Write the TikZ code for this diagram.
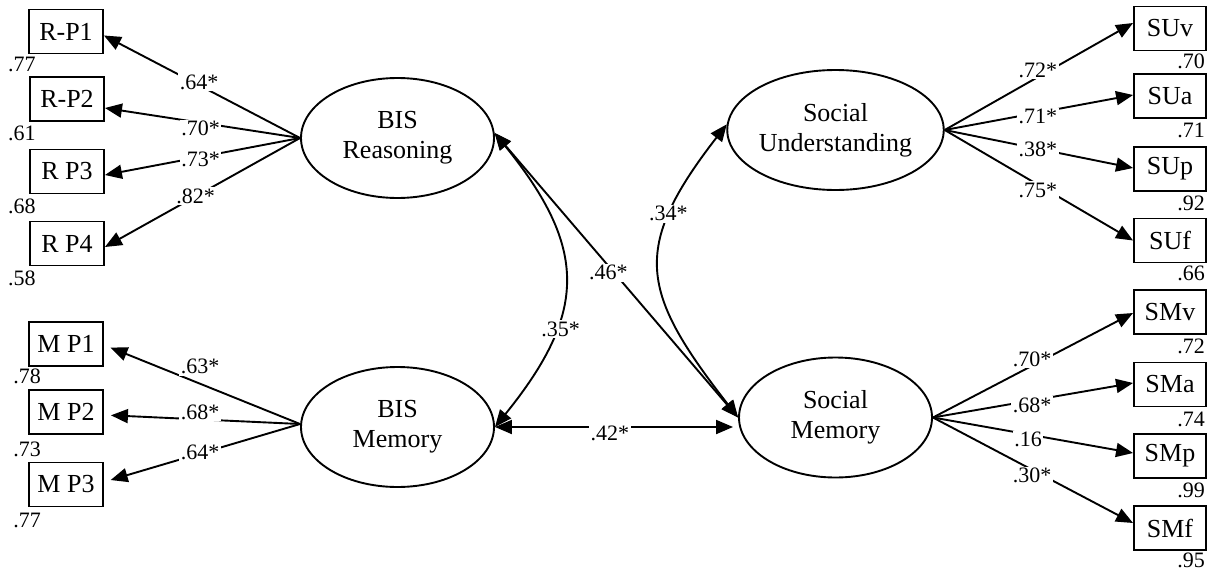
\documentclass[tikz,border=0pt]{standalone}
\usepackage{fontspec}
\setmainfont{Liberation Serif}
\usetikzlibrary{arrows.meta,shapes.geometric}

\tikzset{
  obs/.style={draw, line width=1.9pt, minimum width=74pt, minimum height=44pt,
    inner sep=0pt, font=\fontsize{26}{30}\selectfont},
  lat/.style={draw, ellipse, line width=1.9pt, minimum width=193pt, minimum height=120pt,
    inner sep=0pt, align=center, font=\fontsize{26}{30}\selectfont},
  load/.style={line width=1.9pt, -{Triangle[length=17pt,width=14pt]}},
  cov/.style={line width=1.9pt, {Triangle[length=17pt,width=14pt]}-{Triangle[length=17pt,width=14pt]}},
  coef/.style={fill=white, inner sep=1.5pt, font=\fontsize{22}{24}\selectfont},
  resid/.style={inner sep=0pt, font=\fontsize{22}{24}\selectfont},
}

\begin{document}
\begin{tikzpicture}[x=1pt, y=-1pt]
\useasboundingbox (0,0) rectangle (1207,573);

% latent factors
\node[lat] (BR) at (397.5,138)   {BIS\\Reasoning};
\node[lat] (BM) at (397.5,427)   {BIS\\Memory};
\node[lat] (SU) at (835.5,130)   {Social\\Understanding};
\node[lat] (SM) at (835.5,417.5) {Social\\Memory};

% indicators, left
\node[obs] (r1) at (66,31.5)  {R-P1};
\node[obs] (r2) at (67,99)    {R-P2};
\node[obs] (r3) at (67,171.5) {R P3};
\node[obs] (r4) at (67,243.5) {R P4};
\node[obs] (m1) at (66,344)   {M P1};
\node[obs] (m2) at (66,412)   {M P2};
\node[obs] (m3) at (66,484.5) {M P3};

% indicators, right
\node[obs, minimum width=72pt] (suv) at (1170,28.5) {SUv};
\node[obs, minimum width=72pt] (sua) at (1170,96)   {SUa};
\node[obs, minimum width=72pt] (sup) at (1170,169)  {SUp};
\node[obs, minimum width=72pt] (suf) at (1170,240.5){SUf};
\node[obs, minimum width=72pt] (smv) at (1170,312)  {SMv};
\node[obs, minimum width=72pt] (sma) at (1170,384.5){SMa};
\node[obs, minimum width=72pt] (smp) at (1170,456)  {SMp};
\node[obs, minimum width=72pt] (smf) at (1170,528)  {SMf};

% residual variances
\node[resid] (er1) at (22,64)   {.77};
\node[resid] (er2) at (22,133)  {.61};
\node[resid] (er3) at (22,206)  {.68};
\node[resid] (er4) at (22,278)  {.58};
\node[resid] (em1) at (27,376)  {.78};
\node[resid] (em2) at (27,449)  {.73};
\node[resid] (em3) at (27,520)  {.77};
\node[resid] (esuv) at (1191,61)  {.70};
\node[resid] (esua) at (1191,130) {.71};
\node[resid] (esup) at (1191,203) {.92};
\node[resid] (esuf) at (1191,273) {.66};
\node[resid] (esmv) at (1191,346) {.72};
\node[resid] (esma) at (1191,419) {.74};
\node[resid] (esmp) at (1191,490) {.99};
\node[resid] (esmf) at (1191,560) {.95};

% loadings, BIS Reasoning
\draw[load] (BR.west) -- ([yshift=-4pt]r1.east)
  node[coef, pos=.515, yshift=3pt] (l1) {.64*};
\draw[load] (BR.west) -- ([yshift=-9pt]r2.east)
  node[coef, pos=.51, yshift=-6pt] (l2) {.70*};
\draw[load] (BR.west) -- ([yshift=-3.5pt]r3.east)
  node[coef, pos=.51, yshift=-2pt] (l3) {.73*};
\draw[load] (BR.west) -- ([yshift=-3.5pt]r4.east)
  node[coef, pos=.535] (l4) {.82*};

% loadings, BIS Memory
\draw[load, shorten >=7pt] ([yshift=3pt]BM.west) -- ([yshift=-1pt]m1.east)
  node[coef, pos=.51, yshift=17pt] (l5) {.63*};
\draw[load, shorten >=7pt] ([yshift=3pt]BM.west) -- ([yshift=-3pt]m2.east)
  node[coef, pos=.51, yshift=7pt] (l6) {.68*};
\draw[load, shorten >=7pt] ([yshift=3pt]BM.west) -- ([yshift=2.5pt]m3.east)
  node[coef, pos=.51, yshift=1.5pt] (l7) {.64*};

% loadings, Social Understanding
\draw[load] (SU.east) -- ([yshift=5.5pt]suv.west)
  node[coef, pos=.495, yshift=7pt] (l8) {.72*};
\draw[load] (SU.east) -- ([yshift=1pt]sua.west)
  node[coef, pos=.495, yshift=-4pt] (l9) {.71*};
\draw[load] (SU.east) -- ([yshift=1pt]sup.west)
  node[coef, pos=.495, yshift=-1pt] (l10) {.38*};
\draw[load] (SU.east) -- (suf.west)
  node[coef, pos=.495, yshift=-5.5pt] (l11) {.75*};

% loadings, Social Memory
\draw[load] (SM.east) -- ([yshift=-1pt]smv.west)
  node[coef, pos=.495, yshift=6.5pt] (l12) {.70*};
\draw[load] (SM.east) -- ([yshift=1.5pt]sma.west)
  node[coef, pos=.495, yshift=-4.5pt] (l13) {.68*};
\draw[load] (SM.east) -- ([yshift=3pt]smp.west)
  node[coef, pos=.475, yshift=-5.5pt] (l14) {.16};
\draw[load] (SM.east) -- ([yshift=5pt]smf.west)
  node[coef, pos=.495, yshift=-6pt] (l15) {.30*};

% factor correlations
\draw[cov, shorten >=5pt] (BM.east) -- (BM.east -| SM.west)
  node[coef, pos=.473, yshift=-6pt] (c1) {.42*};
\draw[cov] (BR.3) -- (SM.west)
  node[coef, pos=.467, yshift=-7pt] (c2) {.46*};
\draw[cov] (BR.3) .. controls +(93,115) and +(93,-115) .. (BM.east)
  node[coef, pos=.68, xshift=5pt] (c3) {.35*};
\draw[cov] (SU.177) .. controls +(-97,125) and +(-97,-125) .. (SM.west)
  node[coef, pos=.28, xshift=-2pt] (c4) {.34*};
\end{tikzpicture}
\end{document}
